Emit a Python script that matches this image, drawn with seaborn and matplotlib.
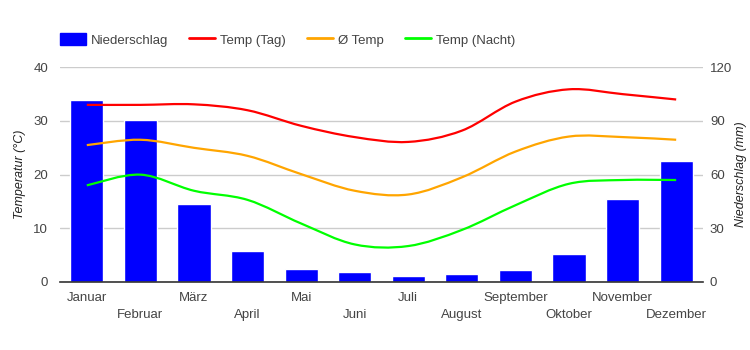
import numpy as np
import seaborn as sns
import matplotlib.pyplot as plt
from matplotlib.path import Path
from matplotlib.patches import PathPatch, Patch
from matplotlib.lines import Line2D

# data
monate = ["Januar", "Februar", "März", "April", "Mai", "Juni", "Juli",
          "August", "September", "Oktober", "November", "Dezember"]
niederschlag = [101.7, 90.6, 43.6, 17.3, 7.3, 5.6, 3.4, 4.7, 6.7, 15.7, 46.4, 67.6]
temp_tag = [33.0, 33.0, 33.1, 32.0, 29.1, 27.0, 26.1, 28.2, 33.6, 35.9, 35.0, 34.0]
temp_mittel = [25.5, 26.5, 25.0, 23.5, 20.1, 17.0, 16.3, 19.5, 24.3, 27.1, 27.0, 26.5]
temp_nacht = [18.0, 20.0, 17.0, 15.3, 10.9, 7.0, 6.7, 9.7, 14.3, 18.3, 19.0, 19.0]

sns.set_style("white")
plt.rcParams['font.family'] = ['Liberation Sans', 'DejaVu Sans']
txt = '#444444'


def smooth_line(ax, ys, color):
    # curve through the points (bezier path, like curveType 'function')
    xs = np.arange(len(ys), dtype=float)
    pts = np.column_stack([xs, ys])
    n = len(pts)
    verts = [pts[0]]
    codes = [Path.MOVETO]
    t = 1 / 6
    for i in range(n - 1):
        p0 = pts[max(i - 1, 0)]
        p1 = pts[i]
        p2 = pts[i + 1]
        p3 = pts[min(i + 2, n - 1)]
        verts += [p1 + (p2 - p0) * t, p2 - (p3 - p1) * t, p2]
        codes += [Path.CURVE4] * 3
    ax.add_patch(PathPatch(Path(verts, codes), fill=False, edgecolor=color,
                           lw=1.6, zorder=3, capstyle='butt'))


fig = plt.figure(figsize=(7.5, 3.5), dpi=100)
ax = fig.add_axes([0.08, 0.1943, 0.8573, 0.6134])
ax2 = ax.twinx()

sns.barplot(x=list(range(12)), y=niederschlag, ax=ax2, color='#0000ff',
            width=0.62, saturation=1, native_scale=True)
ax2.set_ylim(0, 120)
ax2.set_yticks([0, 30, 60, 90, 120])
ax2.yaxis.grid(True, color='#cccccc', lw=1)
ax2.set_axisbelow(True)

smooth_line(ax, temp_tag, '#ff0000')
smooth_line(ax, temp_mittel, '#ffa500')
smooth_line(ax, temp_nacht, '#00ff00')

ax.set_zorder(ax2.get_zorder() + 1)
ax.patch.set_visible(False)
ax.set_ylim(0, 40)
ax.set_yticks([0, 10, 20, 30, 40])
ax.set_xlim(-0.5, 11.5)
ax.set_xticks(range(12))
ax.set_xticklabels(monate)

for a in (ax, ax2):
    for s in a.spines.values():
        s.set_visible(False)
ax.spines['bottom'].set_visible(True)
ax.spines['bottom'].set_color('#333333')
ax.spines['bottom'].set_linewidth(1.2)

ax.tick_params(axis='y', length=0, pad=8.5, labelsize=9.5, labelcolor=txt)
ax.tick_params(axis='x', length=0, labelsize=9.5, labelcolor=txt)
# two rows of month labels
for i, tick in enumerate(ax.xaxis.get_major_ticks()):
    tick.set_pad(7.2 if i % 2 == 0 else 19.4)
ax2.tick_params(axis='y', length=0, pad=5, labelsize=9.5, labelcolor=txt)
ax2.set_xlabel("")

ax.set_ylabel("Temperatur (°C)", fontsize=9, style='italic', color='#222222')
ax2.set_ylabel("Niederschlag (mm)", fontsize=9, style='italic', color='#222222')
ax.yaxis.set_label_coords(-0.053, 0.5)
ax2.yaxis.set_label_coords(1.05, 0.5)

handles = [Patch(color='#0000ff', label='Niederschlag'),
           Line2D([], [], color='#ff0000', lw=2, label='Temp (Tag)'),
           Line2D([], [], color='#ffa500', lw=2, label='Ø Temp'),
           Line2D([], [], color='#00ff00', lw=2, label='Temp (Nacht)')]
fig.legend(handles=handles, loc='center left', bbox_to_anchor=(0.08, 0.886),
           ncol=4, frameon=False, fontsize=9.5, labelcolor=txt,
           handlelength=1.97, handleheight=1.0, handletextpad=0.38,
           columnspacing=1.59, borderpad=0, borderaxespad=0)

fig.savefig("out.png", dpi=100)
